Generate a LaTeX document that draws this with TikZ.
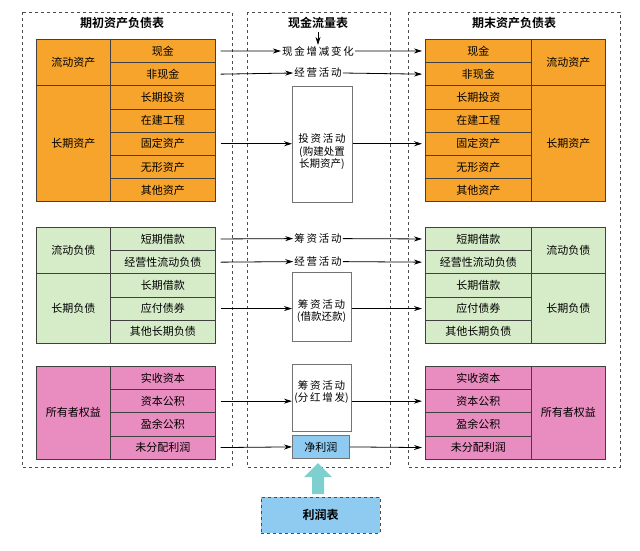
\documentclass[tikz,border=0pt]{standalone}
\usepackage{fontspec}
\setmainfont{Noto Sans CJK SC}
\newfontfamily\cjkb{Noto Sans CJK SC Bold}
\usetikzlibrary{arrows.meta,positioning}
\definecolor{org}{HTML}{F7A42C}
\definecolor{grn}{HTML}{D6ECC9}
\definecolor{pnk}{HTML}{E98CBF}
\definecolor{blu}{HTML}{8FCAF0}
\definecolor{tea}{HTML}{7ED0D0}
\begin{document}
\begin{tikzpicture}[x=1pt,y=-1pt,
  cell/.style={draw=black!75,line width=0.7pt,minimum width=#1,minimum height=23.2pt,inner sep=0pt,anchor=north west,font=\fontsize{11}{13}\selectfont},
  panel/.style={draw=black!70,dashed,line width=0.6pt},
  ttl/.style={font=\cjkb\fontsize{12}{14}\selectfont},
  mid/.style={font=\fontsize{10.5}{12.5}\selectfont,inner sep=1pt},
  mbox/.style={draw=black!55,line width=0.8pt,fill=white,inner sep=0pt,font=\fontsize{11}{13}\selectfont,align=center},
  arr/.style={-{Stealth[length=8pt,width=5pt]},line width=0.8pt}]
\useasboundingbox (0,0) rectangle (640,550);
\fill[white] (0,0) rectangle (640,550);
\draw[panel] (22,12) rectangle (232,467);
\draw[panel] (247,12) rectangle (390,467);
\draw[panel] (408,12) rectangle (620,467);
\node[ttl] (t1) at (122,23) {期初资产负债表};
\node[ttl] (t2) at (318,23) {现金流量表};
\node[ttl] (t3) at (514,23) {期末资产负债表};
% LEFT
\node[cell=74pt,minimum height=46.4pt,fill=org] (la1) at (36,39) {流动资产};
\node[cell=74pt,minimum height=116pt,fill=org] (la2) at (36,85.4) {长期资产};
\foreach \t [count=\i from 0] in {现金,非现金,长期投资,在建工程,固定资产,无形资产,其他资产}
  \node[cell=105pt,fill=org] (lo\i) at (110,39+\i*23.2) {\t};
\node[cell=74pt,minimum height=46.4pt,fill=grn] (lg1) at (36,227) {流动负债};
\node[cell=74pt,minimum height=69.6pt,fill=grn] (lg2) at (36,273.4) {长期负债};
\foreach \t [count=\i from 0] in {短期借款,经营性流动负债,长期借款,应付债券,其他长期负债}
  \node[cell=105pt,fill=grn] (lgr\i) at (110,227+\i*23.2) {\t};
\node[cell=74pt,minimum height=92.8pt,fill=pnk] (lp1) at (36,366) {所有者权益};
\foreach \t [count=\i from 0] in {实收资本,资本公积,盈余公积,未分配利润}
  \node[cell=105pt,fill=pnk] (lpr\i) at (110,366+\i*23.2) {\t};
% RIGHT
\foreach \t [count=\i from 0] in {现金,非现金,长期投资,在建工程,固定资产,无形资产,其他资产}
  \node[cell=106pt,fill=org] (ro\i) at (425,39+\i*23.2) {\t};
\node[cell=74pt,minimum height=46.4pt,fill=org] (ra1) at (531,39) {流动资产};
\node[cell=74pt,minimum height=116pt,fill=org] (ra2) at (531,85.4) {长期资产};
\foreach \t [count=\i from 0] in {短期借款,经营性流动负债,长期借款,应付债券,其他长期负债}
  \node[cell=106pt,fill=grn] (rgr\i) at (425,227+\i*23.2) {\t};
\node[cell=74pt,minimum height=46.4pt,fill=grn] (rg1) at (531,227) {流动负债};
\node[cell=74pt,minimum height=69.6pt,fill=grn] (rg2) at (531,273.4) {长期负债};
\foreach \t [count=\i from 0] in {实收资本,资本公积,盈余公积,未分配利润}
  \node[cell=106pt,fill=pnk] (rpr\i) at (425,366+\i*23.2) {\t};
\node[cell=74pt,minimum height=92.8pt,fill=pnk] (rp1) at (531,366) {所有者权益};
% middle
\node[mid] (m1) at (318,51) {现\,金\,增\,减\,变\,化};
\node[mid] (m2) at (318,73) {经\,营\,活\,动};
\node[mbox,minimum width=60pt,minimum height=116pt,anchor=north west] (m3) at (292,86) {};
\node[mid,align=center] (m3t) at (322,152) {投\,资\,活\,动\\(购建处置\\长期资产)};
\node[mid] (m4) at (318,238.6) {筹\,资\,活\,动};
\node[mid] (m5) at (318,261.6) {经\,营\,活\,动};
\node[mbox,minimum width=59pt,minimum height=69pt,anchor=north west] (m6) at (292,272) {};
\node[mid,align=center] (m6t) at (321.5,311) {筹\,资\,活\,动\\(借款还款)};
\node[mbox,minimum width=59pt,minimum height=67pt,anchor=north west] (m7) at (292,364) {};
\node[mid,align=center] (m7t) at (321.5,392) {筹\,资\,活\,动\\(分\,红\,增\,发)};
\node[mbox,fill=blu,minimum width=57pt,minimum height=23pt,anchor=north west] (m8) at (292,435) {净利润};
\node[draw=black!70,dashed,fill=blu,minimum width=119pt,minimum height=36pt,font=\cjkb\fontsize{12}{14}\selectfont] (pl) at (320.5,515) {利润表};
\coordinate (pa) at (318,494);
\coordinate (pb) at (318,463);
\fill[tea] (pa) ++(-6,0) -- ++(0,-17) -- ++(-8,0) -- (pb) -- ++(14,14) -- ++(-8,0) -- ++(0,17) -- cycle;
\draw[arr] (t2.south) -- (m1.north);
% arrows
\foreach \l/\m/\r in {lo0/m1/ro0, lo1/m2/ro1, lgr0/m4/rgr0, lgr1/m5/rgr1, lpr3/m8/rpr3}{
  \draw[arr] ([xshift=5pt]\l.east) -- (\m.west);
  \draw[arr] (\m.east) -- ([xshift=-3pt]\r.west);
}
\foreach \l/\m/\r in {lo4/m3/ro4, lgr3/m6/rgr3, lpr1/m7/rpr1}{
  \draw[arr] ([xshift=5pt]\l.east) -- (\l.east -| \m.west);
  \draw[arr] (\l.east -| \m.east) -- ([xshift=-3pt]\r.west);
}
\end{tikzpicture}
\end{document}
